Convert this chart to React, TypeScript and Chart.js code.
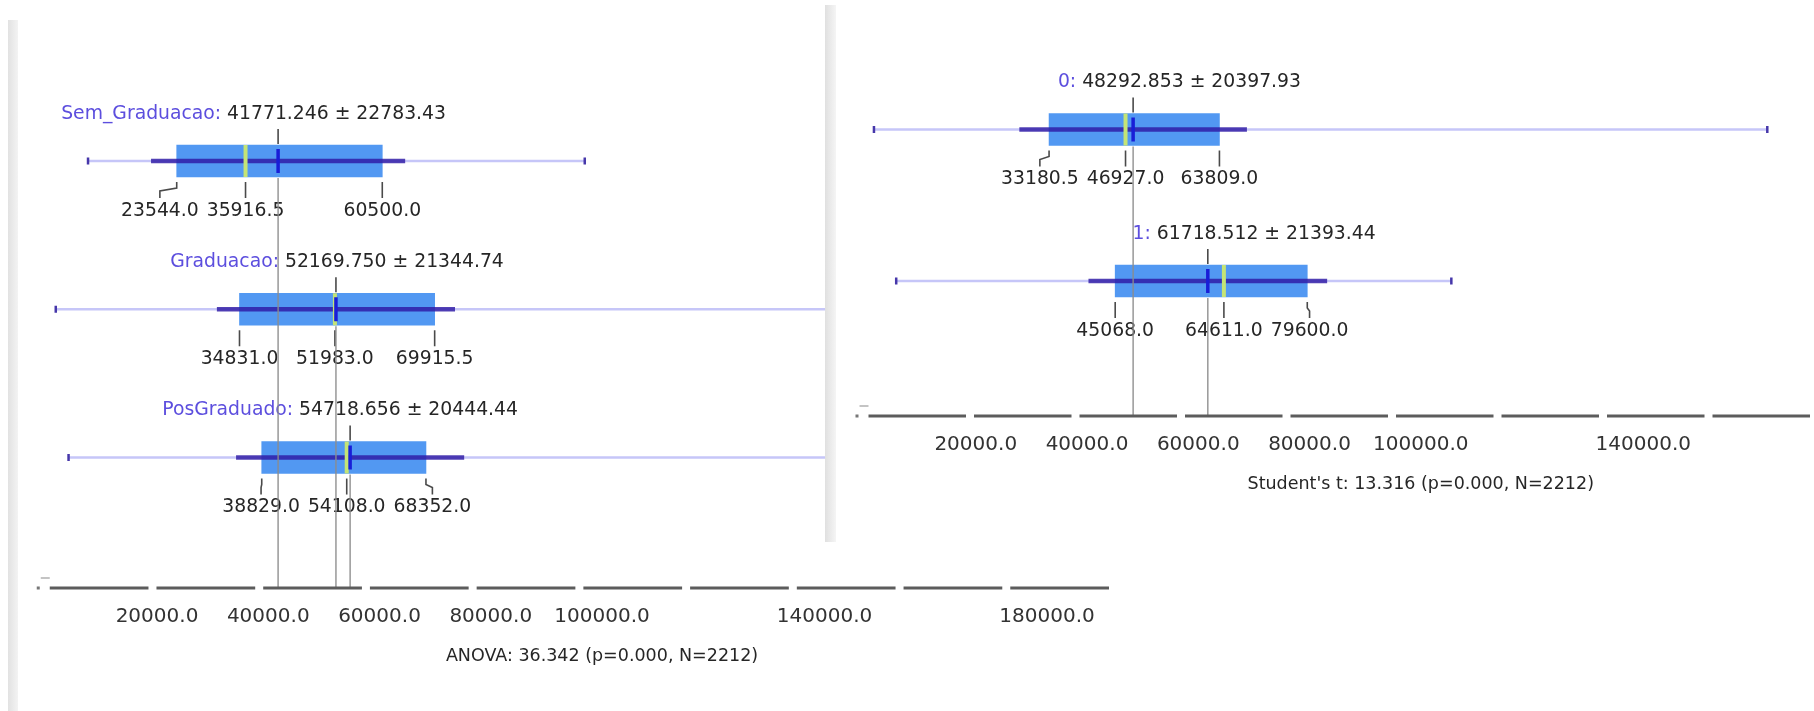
import React, { useEffect, useRef } from "react";
import { Chart, registerables } from "chart.js";
Chart.register(...registerables);

// ---------- data: left panel (ANOVA by education) ----------
const LEFT_GROUPS = ["Sem_Graduacao", "Graduacao", "PosGraduado"];
const LEFT_MEAN = [41771.246, 52169.75, 54718.656];
const LEFT_SD = [22783.43, 21344.74, 20444.44];
const LEFT_Q1 = [23544.0, 34831.0, 38829.0];
const LEFT_MEDIAN = [35916.5, 51983.0, 54108.0];
const LEFT_Q3 = [60500.0, 69915.5, 68352.0];
const LEFT_MIN = [7600, 1800, 4100];
const LEFT_MAX = [96900, 162300, 150000];
const LEFT_TICKS = [20000, 40000, 60000, 80000, 100000, 140000, 180000];
const LEFT_TEST = "ANOVA: 36.342 (p=0.000, N=2212)";

// ---------- data: right panel (Student's t by 0/1) ----------
const RIGHT_GROUPS = ["0", "1"];
const RIGHT_MEAN = [48292.853, 61718.512];
const RIGHT_SD = [20397.93, 21393.44];
const RIGHT_Q1 = [33180.5, 45068.0];
const RIGHT_MEDIAN = [46927.0, 64611.0];
const RIGHT_Q3 = [63809.0, 79600.0];
const RIGHT_MIN = [1700, 5700];
const RIGHT_MAX = [162300, 105500];
const RIGHT_TICKS = [20000, 40000, 60000, 80000, 100000, 140000];
const RIGHT_TEST = "Student's t: 13.316 (p=0.000, N=2212)";

const TICK_STEP = 20000;
const TEST_ANCHOR = 100000;

type Panel = {
  groups: string[]; mean: number[]; sd: number[]; q1: number[]; median: number[];
  q3: number[]; min: number[]; max: number[]; ticks: number[]; test: string;
};
type Layout = { padLeft: number; xMax: number; yMin: number; yMax: number; axisHeight: number };

const LEFT: Panel = {
  groups: LEFT_GROUPS, mean: LEFT_MEAN, sd: LEFT_SD, q1: LEFT_Q1, median: LEFT_MEDIAN,
  q3: LEFT_Q3, min: LEFT_MIN, max: LEFT_MAX, ticks: LEFT_TICKS, test: LEFT_TEST,
};
const RIGHT: Panel = {
  groups: RIGHT_GROUPS, mean: RIGHT_MEAN, sd: RIGHT_SD, q1: RIGHT_Q1, median: RIGHT_MEDIAN,
  q3: RIGHT_Q3, min: RIGHT_MIN, max: RIGHT_MAX, ticks: RIGHT_TICKS, test: RIGHT_TEST,
};

const FAMILY = '"DejaVu Sans", Verdana, sans-serif';
const LABEL_FONT = `18.8px ${FAMILY}`;
const TICK_FONT = `20px ${FAMILY}`;
const TEST_FONT = `17.5px ${FAMILY}`;
const TEXT_COLOR = "#262626";

function seg(ctx: CanvasRenderingContext2D, pts: number[][]) {
  ctx.beginPath();
  ctx.moveTo(pts[0][0], pts[0][1]);
  for (let k = 1; k < pts.length; k++) ctx.lineTo(pts[k][0], pts[k][1]);
  ctx.stroke();
}

function annotations(p: Panel) {
  return {
    id: "boxAnnotations",
    afterDatasetsDraw(chart: any) {
      const ctx: CanvasRenderingContext2D = chart.ctx;
      const xs = chart.scales.x;
      const ys = chart.scales.y;
      const axisY = chart.chartArea.bottom;
      ctx.save();
      ctx.font = LABEL_FONT;
      ctx.textBaseline = "middle";
      ctx.lineCap = "butt";
      p.groups.forEach((g, i) => {
        const cy = ys.getPixelForValue(i);
        const mx = xs.getPixelForValue(p.mean[i]);
        // label above
        const start = mx - 51;
        ctx.textAlign = "right";
        ctx.fillStyle = "rgb(92,78,222)";
        ctx.fillText(g + ": ", start, cy - 47);
        ctx.textAlign = "left";
        ctx.fillStyle = TEXT_COLOR;
        ctx.fillText(`${p.mean[i].toFixed(3)} ± ${p.sd[i].toFixed(2)}`, start, cy - 47);
        // tick above at mean
        ctx.strokeStyle = "#4a4a4a";
        ctx.lineWidth = 1.6;
        seg(ctx, [[mx, cy - 32], [mx, cy - 17]]);
        // quartile labels below
        const vals = [p.q1[i], p.median[i], p.q3[i]];
        const px = vals.map((v) => xs.getPixelForValue(v));
        const txt = vals.map((v) => v.toFixed(1));
        const w = txt.map((t) => ctx.measureText(t).width);
        const gap = 8;
        const lc = [...px];
        lc[0] = Math.min(px[0], lc[1] - (w[0] + w[1]) / 2 - gap);
        lc[2] = Math.max(px[2], lc[1] + (w[1] + w[2]) / 2 + gap);
        ctx.textAlign = "center";
        ctx.fillStyle = TEXT_COLOR;
        for (let j = 0; j < 3; j++) {
          ctx.strokeStyle = "#4a4a4a";
          if (Math.abs(lc[j] - px[j]) < 0.5) {
            seg(ctx, [[px[j], cy + 21], [px[j], cy + 37]]);
          } else {
            seg(ctx, [[px[j], cy + 21], [px[j], cy + 27], [lc[j], cy + 30], [lc[j], cy + 37]]);
          }
          ctx.fillText(txt[j], lc[j], cy + 50);
        }
      });
      // gray mean guide lines down to the axis
      ctx.strokeStyle = "rgba(140,140,140,0.9)";
      ctx.lineWidth = 1.5;
      p.groups.forEach((_, i) => {
        const cy = ys.getPixelForValue(i);
        const mx = xs.getPixelForValue(p.mean[i]);
        seg(ctx, [[mx, cy + 17], [mx, axisY]]);
      });
      ctx.restore();
    },
    afterDraw(chart: any) {
      const ctx: CanvasRenderingContext2D = chart.ctx;
      const xs = chart.scales.x;
      const axisY = chart.chartArea.bottom;
      const right = chart.chartArea.right;
      ctx.save();
      // dashed axis: segments between tick positions
      ctx.strokeStyle = "#5c5c5c";
      ctx.lineWidth = 3;
      const tv: number[] = xs.ticks.map((t: any) => t.value);
      for (let k = 0; k < tv.length; k++) {
        const a = xs.getPixelForValue(tv[k]) + 4;
        const b = k + 1 < tv.length ? xs.getPixelForValue(tv[k + 1]) - 4 : right;
        if (b > a) seg(ctx, [[a, axisY], [Math.min(b, right), axisY]]);
      }
      const x0 = xs.getPixelForValue(0);
      ctx.fillStyle = "#777";
      ctx.fillRect(x0 - 9, axisY - 1.5, 3, 3);
      ctx.strokeStyle = "#b0b0b0";
      ctx.lineWidth = 1.5;
      seg(ctx, [[x0 - 5, axisY - 10], [x0 + 4, axisY - 10]]);
      // tick labels
      ctx.font = TICK_FONT;
      ctx.fillStyle = "#333";
      ctx.textAlign = "center";
      ctx.textBaseline = "middle";
      p.ticks.forEach((v) => {
        ctx.fillText(v.toFixed(1), xs.getPixelForValue(v), axisY + 29);
      });
      // test statistic text
      ctx.font = TEST_FONT;
      ctx.fillStyle = TEXT_COLOR;
      ctx.fillText(p.test, xs.getPixelForValue(TEST_ANCHOR), axisY + 68);
      ctx.restore();
    },
  };
}

function makeConfig(p: Panel, L: Layout): any {
  const idx = p.groups.map((_, i) => i);
  const datasets: any[] = [
    {
      type: "scatter", label: "mean", order: 0,
      data: idx.map((i) => ({ x: p.mean[i], y: i })),
      pointStyle: "line", pointRadius: 12, pointRotation: 90,
      pointBorderColor: "rgb(25,30,215)", pointBorderWidth: 3.5,
    },
    {
      type: "scatter", label: "median", order: 1,
      data: idx.map((i) => ({ x: p.median[i], y: i })),
      pointStyle: "line", pointRadius: 16, pointRotation: 90,
      pointBorderColor: "rgb(196,228,118)", pointBorderWidth: 4,
    },
    {
      type: "scatter", label: "extremes", order: 2,
      data: idx.flatMap((i) => [{ x: p.min[i], y: i }, { x: p.max[i], y: i }]),
      pointStyle: "line", pointRadius: 3.5, pointRotation: 90,
      pointBorderColor: "rgb(70,55,170)", pointBorderWidth: 2.5,
    },
    {
      type: "bar", label: "mean ± sd", order: 3, grouped: false, barThickness: 4,
      data: idx.map((i) => ({ y: i, x: [p.mean[i] - p.sd[i], p.mean[i] + p.sd[i]] })),
      backgroundColor: "rgba(45,25,165,0.82)",
    },
    {
      type: "bar", label: "quartiles", order: 4, grouped: false, barThickness: 32,
      data: idx.map((i) => ({ y: i, x: [p.q1[i], p.q3[i]] })),
      backgroundColor: "rgb(82,152,242)",
    },
    {
      type: "bar", label: "range", order: 5, grouped: false, barThickness: 2,
      data: idx.map((i) => ({ y: i, x: [p.min[i], p.max[i]] })),
      backgroundColor: "rgb(198,198,248)",
    },
  ];
  return {
    type: "bar",
    data: { datasets },
    options: {
      indexAxis: "y",
      animation: false,
      responsive: false,
      devicePixelRatio: 1,
      events: [],
      layout: { autoPadding: false, padding: { left: L.padLeft, right: 0, top: 0, bottom: 0 } },
      plugins: { legend: { display: false }, tooltip: { enabled: false } },
      scales: {
        x: {
          type: "linear", position: "bottom", min: 0, max: L.xMax, bounds: "data", offset: false,
          grid: { display: false, drawTicks: false },
          border: { display: false },
          ticks: { stepSize: TICK_STEP, includeBounds: false, display: false },
          afterFit: (s: any) => { s.height = L.axisHeight; },
        },
        y: {
          type: "linear", reverse: true, min: L.yMin, max: L.yMax, bounds: "data",
          offset: false, grid: { offset: false }, display: false,
        },
      },
    },
    plugins: [annotations(p)],
  };
}

function PanelChart({ panel, layout, width, height }: { panel: Panel; layout: Layout; width: number; height: number }) {
  const ref = useRef<HTMLCanvasElement>(null);
  useEffect(() => {
    const chart = new Chart(ref.current as HTMLCanvasElement, makeConfig(panel, layout));
    return () => chart.destroy();
  }, [panel, layout]);
  return <canvas ref={ref} width={width} height={height} style={{ display: "block", width, height }} />;
}

const LEFT_LAYOUT: Layout = { padLeft: 45.75, xMax: 191865, yMin: -1.086, yMax: 2.88, axisHeight: 123 };
const RIGHT_LAYOUT: Layout = { padLeft: 39.5, xMax: 170697, yMin: -0.8218, yMax: 1.891, axisHeight: 126 };

export default function App() {
  return (
    <div style={{ position: "fixed", left: 0, top: 0, width: 1814, height: 711, background: "#fff", overflow: "hidden" }}>
      <div style={{ position: "absolute", left: 8, top: 20, width: 10, height: 691, background: "linear-gradient(to right,#e2e2e2,#f3f3f3)" }} />
      <div style={{ position: "absolute", left: 0, top: 0 }}>
        <PanelChart panel={LEFT} layout={LEFT_LAYOUT} width={1113} height={711} />
      </div>
      <div style={{ position: "absolute", left: 825, top: 5, width: 989, height: 537, background: "#fff" }}>
        <PanelChart panel={RIGHT} layout={RIGHT_LAYOUT} width={989} height={537} />
        <div style={{ position: "absolute", left: 0, top: 0, width: 11, height: 537, background: "linear-gradient(to right,#e0e0e0,#f5f5f5)" }} />
      </div>
    </div>
  );
}
